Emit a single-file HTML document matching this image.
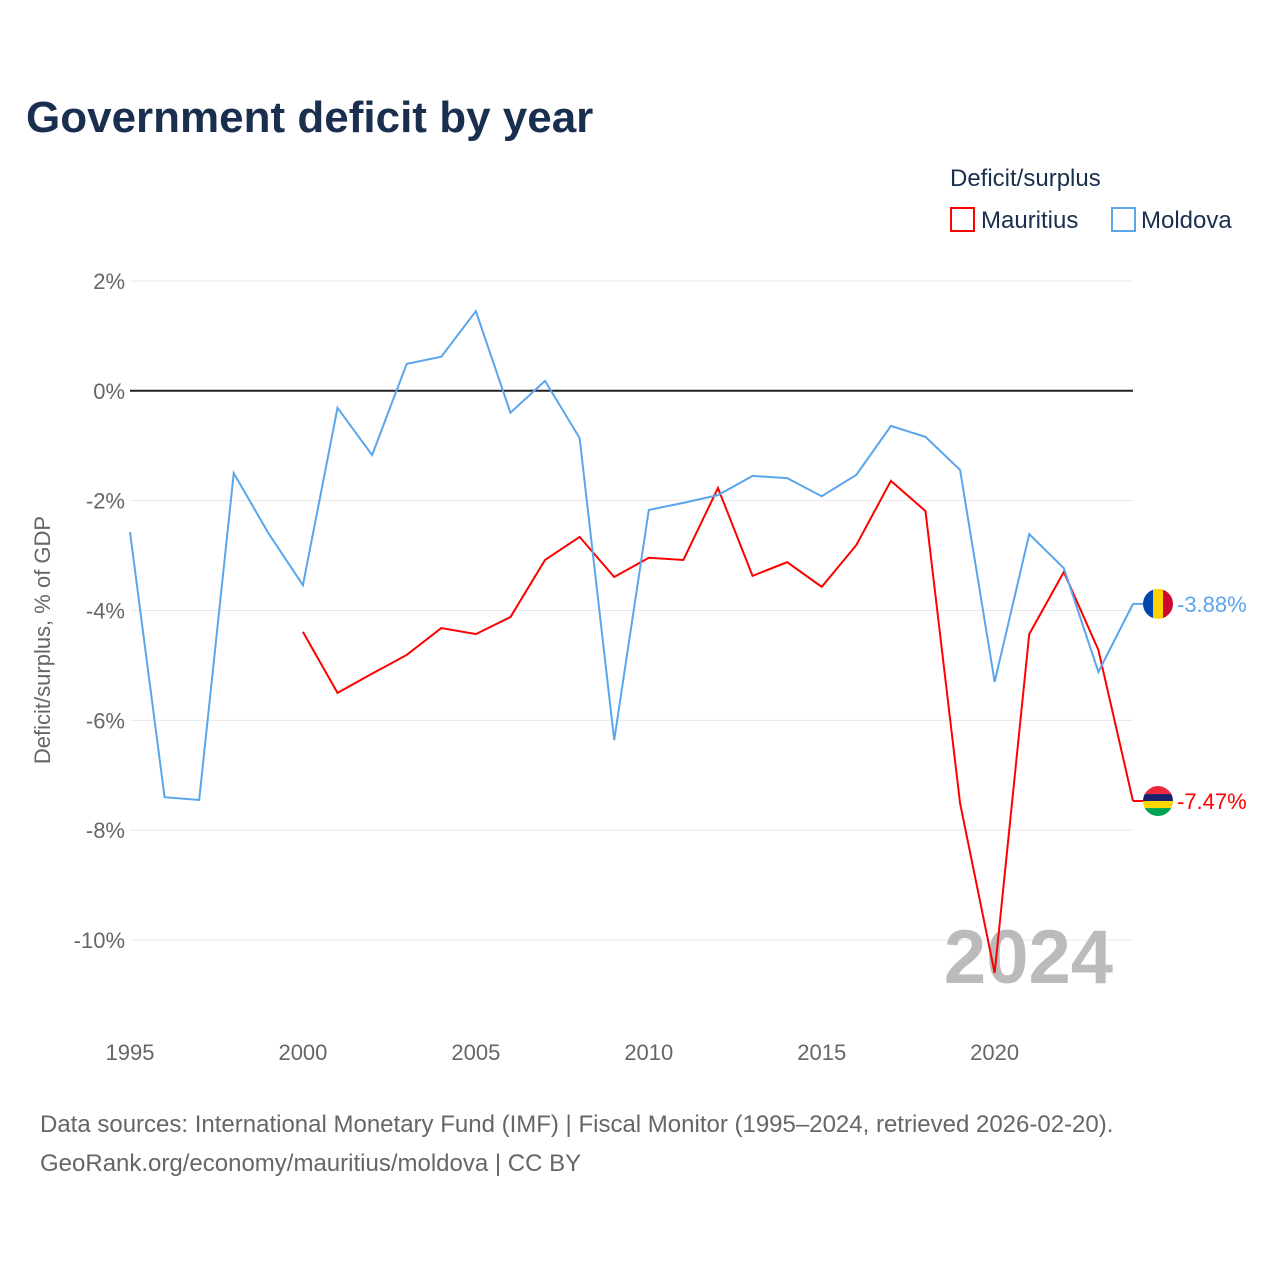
<!DOCTYPE html>
<html><head><meta charset="utf-8"><style>
body{margin:0;background:#fff;font-family:"Liberation Sans",sans-serif}
</style></head><body>
<svg id="c" width="1280" height="1280" xmlns="http://www.w3.org/2000/svg">
<text x="26" y="132" font-size="44" font-weight="bold" fill="#1a2e4f">Government deficit by year</text>
<text x="950" y="186" font-size="24" fill="#1a2e4f">Deficit/surplus</text>
<g><rect x="951" y="208" width="23" height="23" fill="none" stroke="#f00" stroke-width="2"/><text x="981" y="228" font-size="24" fill="#1a2e4f">Mauritius</text></g>
<g><rect x="1112" y="208" width="23" height="23" fill="none" stroke="#5aa5eb" stroke-width="2"/><text x="1141" y="228" font-size="24" fill="#1a2e4f">Moldova</text></g>
<text transform="translate(50,640) rotate(-90)" text-anchor="middle" font-size="22" fill="#666">Deficit/surplus, % of GDP</text>
<g id="grid"></g>
<text x="1113" y="983" text-anchor="end" font-size="76" font-weight="bold" fill="#bbb">2024</text>
<g id="marks"></g>
<text x="40" y="1132" font-size="24" fill="#666">Data sources: International Monetary Fund (IMF) | Fiscal Monitor (1995–2024, retrieved 2026-02-20).</text>
<text x="40" y="1171" font-size="24" fill="#666">GeoRank.org/economy/mauritius/moldova | CC BY</text>
</svg>
<script>
const years=[1995,1996,1997,1998,1999,2000,2001,2002,2003,2004,2005,2006,2007,2008,2009,2010,2011,2012,2013,2014,2015,2016,2017,2018,2019,2020,2021,2022,2023,2024];
const moldova=[-2.57,-7.40,-7.45,-1.50,-2.59,-3.54,-0.31,-1.17,0.49,0.62,1.45,-0.40,0.18,-0.86,-6.36,-2.17,-2.04,-1.90,-1.55,-1.59,-1.92,-1.53,-0.64,-0.84,-1.44,-5.30,-2.61,-3.23,-5.12,-3.88];
const mauritius=[null,null,null,null,null,-4.39,-5.50,-5.15,-4.81,-4.32,-4.43,-4.12,-3.08,-2.66,-3.39,-3.04,-3.08,-1.77,-3.37,-3.12,-3.57,-2.81,-1.64,-2.19,-7.51,-10.6,-4.43,-3.30,-4.72,-7.47];
const yTicks=[2,0,-2,-4,-6,-8,-10];
const xTicks=[1995,2000,2005,2010,2015,2020];
const NS="http://www.w3.org/2000/svg";
const X=y=>130+(y-1995)*(1133-130)/29;
const Y=v=>390.8-v*54.92;
const grid=document.getElementById('grid'),marks=document.getElementById('marks');
function mk(tag,attrs,parent){const e=document.createElementNS(NS,tag);for(const k in attrs)e.setAttribute(k,attrs[k]);parent.appendChild(e);return e;}
yTicks.forEach(t=>{
 const l=mk('line',{x1:130,x2:1133,y1:Y(t),y2:Y(t),stroke:t===0?'#222':'#e8e8e8','stroke-width':t===0?2:1},grid);
 
 
 const tx=mk('text',{x:125,y:Y(t)+8,'text-anchor':'end','font-size':22,fill:'#666'},grid);
 tx.textContent=t+'%';
 
 
});
xTicks.forEach(t=>{
 const tx=mk('text',{x:X(t),y:1060,'text-anchor':'middle','font-size':22,fill:'#666'},grid);
 tx.textContent=t;
 
 
});
function series(vals,color,name){
 let d='';vals.forEach((v,i)=>{if(v===null)return;d+=(d?'L':'M')+X(years[i])+','+Y(v);});
 const p=mk('path',{d:d,fill:'none',stroke:color,'stroke-width':2},marks);
 
 
 const last=vals[vals.length-1],ly=Y(last);
 const g=mk('g',{},marks);
 
 
 mk('line',{x1:1133,x2:1150,y1:ly,y2:ly,stroke:color,'stroke-width':2},g);
 if(name==='moldova'){
  mk('rect',{x:1143,y:ly-15,width:10,height:30,fill:'#0046ae'},g);
  mk('rect',{x:1153,y:ly-15,width:10,height:30,fill:'#ffd200'},g);
  mk('rect',{x:1163,y:ly-15,width:10,height:30,fill:'#cc092f'},g);
 }else{
  mk('rect',{x:1143,y:ly-15,width:30,height:8,fill:'#ea2839'},g);
  mk('rect',{x:1143,y:ly-7,width:30,height:7,fill:'#1a206d'},g);
  mk('rect',{x:1143,y:ly,width:30,height:7,fill:'#ffd500'},g);
  mk('rect',{x:1143,y:ly+7,width:30,height:8,fill:'#00a551'},g);
 }
 const t=mk('text',{x:1177,y:ly+8,'font-size':22,fill:color},g);
 t.textContent=last.toFixed(2)+'%';
}
const defs=mk('defs',{},document.getElementById('c'));
series(mauritius,'#f00','mauritius');
series(moldova,'#5aa5eb','moldova');
document.querySelectorAll('#marks g').forEach((g,i)=>{
 const r=g.querySelector('rect');const cy=+r.getAttribute('y')+15;
 const cp=mk('clipPath',{id:'cp'+i},defs);mk('circle',{cx:1158,cy:cy,r:15},cp);
 g.querySelectorAll('rect').forEach(rc=>rc.setAttribute('clip-path','url(#cp'+i+')'));
});
</script>
</body></html>
